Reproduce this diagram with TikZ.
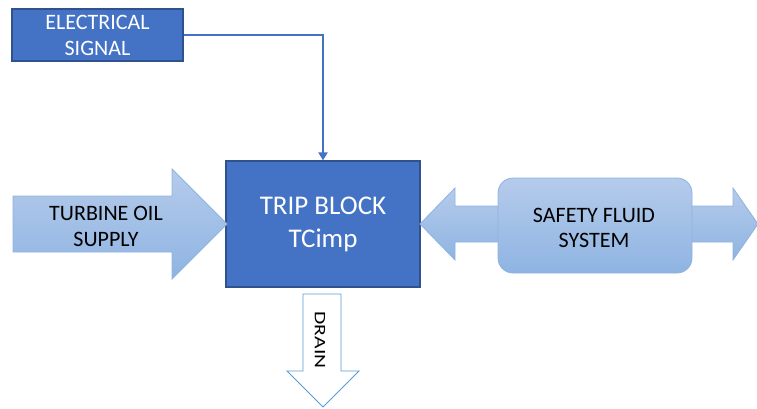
\documentclass[tikz,border=0pt]{standalone}
\usepackage{fontspec}
\setmainfont{Carlito}
\usetikzlibrary{arrows.meta}
\definecolor{darkfill}{HTML}{4472C4}
\definecolor{darkline}{HTML}{2F528F}
\definecolor{lighttop}{HTML}{B5CBEB}
\definecolor{lightbot}{HTML}{8FB4E2}
\definecolor{lightline}{HTML}{8EB3E0}
\definecolor{drainline}{HTML}{5B9BD5}
\tikzset{
  darkbox/.style={draw=darkline, line width=1.2pt, fill=darkfill, text=white, align=center, inner sep=0pt},
  lightshape/.style={draw=lightline, line width=0.8pt, top color=lighttop, bottom color=lightbot},
  blacktext/.style={text=black, align=center, inner sep=0pt},
  signalline/.style={draw=darkfill, line width=2pt, -{Triangle[length=8pt,width=9pt]}},
}
\begin{document}
\begin{tikzpicture}[x=1pt,y=-1pt]
\useasboundingbox (0,0) rectangle (757,409);
% electrical signal box
\node[darkbox, minimum width=171pt, minimum height=52pt, font=\fontsize{22}{26}\selectfont] (elec) at (97.5,35) {ELECTRICAL\\SIGNAL};
% trip block
\node[darkbox, minimum width=194pt, minimum height=126pt, font=\fontsize{27}{33}\selectfont] (trip) at (323,224) {TRIP BLOCK\\TCimp};
% turbine oil supply arrow
\path[lightshape] (13,196) -- (172,196) -- (172,169) -- (227,224) -- (172,279) -- (172,252) -- (13,252) -- cycle;
\node[blacktext, font=\fontsize{22}{26}\selectfont] (turb) at (106,226) {TURBINE OIL\\SUPPLY};
% double arrow for safety fluid
\path[lightshape] (420,224) -- (455,188) -- (455,206) -- (733,206) -- (733,188) -- (758,224) -- (733,260) -- (733,242) -- (455,242) -- (455,260) -- cycle;
\node[lightshape, rounded corners=15pt, minimum width=194pt, minimum height=95pt, inner sep=0pt] (safety) at (595,225.5) {};
\node[blacktext, font=\fontsize{22}{25}\selectfont] (safetytext) at (594,228) {SAFETY FLUID\\SYSTEM};
% drain arrow
\path[draw=drainline, line width=0.9pt, fill=white] (303,294) -- (341,294) -- (341,371) -- (359,371) -- (323,407) -- (287,371) -- (303,371) -- cycle;
\node[blacktext, rotate=-90, xscale=1.35, font=\fontsize{16}{18}\selectfont] (drain) at (320,340) {DRAIN};
% signal connector
\draw[signalline] (elec.east) -| (trip.north);
\end{tikzpicture}
\end{document}
